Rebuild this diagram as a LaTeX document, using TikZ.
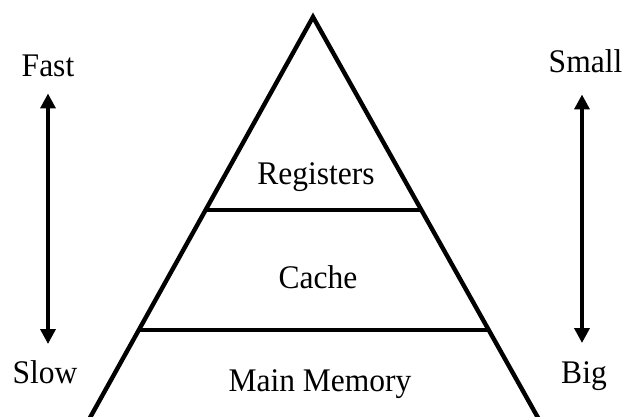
\documentclass[tikz,border=0pt]{standalone}
\usepackage{fontspec}
\usepackage{graphicx}
\setmainfont{Liberation Serif}
\usetikzlibrary{arrows.meta,calc}
\newcommand{\narrowtext}[1]{\scalebox{0.955}[1]{#1}}
\begin{document}
\begin{tikzpicture}[x=1pt,y=-1pt,
  lbl/.style={anchor=base,inner sep=0pt,font=\fontsize{33}{38}\selectfont},
  edge/.style={line width=4.4pt,line join=miter},
  bar/.style={line width=4.2pt},
  dblarrow/.style={line width=3.6pt,{Triangle[width=15pt,length=15pt]}-{Triangle[width=15pt,length=15pt]}}]
\useasboundingbox (0,0) rectangle (624,417);
% triangle
\coordinate (apex) at (313,17);
\coordinate (bl) at (86.5,424);
\coordinate (br) at (541.5,424);
\draw[edge] (bl) -- (apex) -- (br);
\coordinate (l1) at ($(apex)!0.4742!(bl)$);
\coordinate (r1) at ($(apex)!0.4742!(br)$);
\coordinate (l2) at ($(apex)!0.7690!(bl)$);
\coordinate (r2) at ($(apex)!0.7690!(br)$);
\draw[bar] (l1) -- (r1);
\draw[bar] (l2) -- (r2);
% labels in pyramid
\node[lbl] (reg) at (316,185) {\narrowtext{Registers}};
\node[lbl] (cache) at (318,288) {\narrowtext{Cache}};
\node[lbl] (mem) at (320,391.5) {\narrowtext{Main Memory}};
% side labels
\node[lbl] (fast) at (48,77) {\narrowtext{Fast}};
\node[lbl] (slow) at (45,383) {\narrowtext{Slow}};
\node[lbl] (small) at (585.5,73) {\narrowtext{Small}};
\node[lbl] (big) at (584,383) {\narrowtext{Big}};
% arrows
\coordinate (la1) at (48,93.5);
\coordinate (la2) at (48,344);
\coordinate (ra1) at (582,94.5);
\coordinate (ra2) at (582,343);
\draw[dblarrow] (la1) -- (la2);
\draw[dblarrow] (ra1) -- (ra2);
\end{tikzpicture}
\end{document}
